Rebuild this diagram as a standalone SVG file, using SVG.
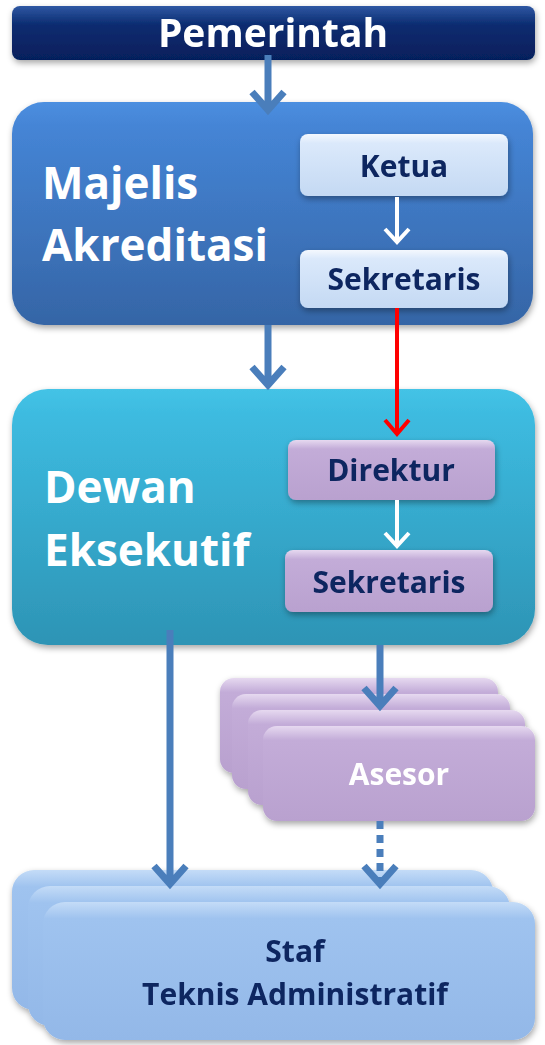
<svg xmlns="http://www.w3.org/2000/svg" width="545" height="1045" viewBox="0 0 545 1045">
<defs>
<filter id="sh" x="-10%" y="-10%" width="120%" height="130%"><feDropShadow dx="1" dy="3" stdDeviation="3" flood-color="#000" flood-opacity="0.35"/></filter>
<linearGradient id="gNavy" x1="0" y1="0" x2="0" y2="1"><stop offset="0" stop-color="#2f57a3"/><stop offset="0.35" stop-color="#0b2c70"/><stop offset="1" stop-color="#061f5c"/></linearGradient>
<linearGradient id="gMaj" x1="0" y1="0" x2="0" y2="1"><stop offset="0" stop-color="#4c8fe0"/><stop offset="0.1" stop-color="#4585d6"/><stop offset="1" stop-color="#3565a6"/></linearGradient>
<linearGradient id="gDew" x1="0" y1="0" x2="0" y2="1"><stop offset="0" stop-color="#44c3e6"/><stop offset="0.1" stop-color="#3dbbe0"/><stop offset="1" stop-color="#2d94b5"/></linearGradient>
<linearGradient id="gLight" x1="0" y1="0" x2="0" y2="1"><stop offset="0" stop-color="#f4f8fe"/><stop offset="0.15" stop-color="#dbe9fb"/><stop offset="1" stop-color="#c4d9f3"/></linearGradient>
<linearGradient id="gPur" x1="0" y1="0" x2="0" y2="1"><stop offset="0" stop-color="#e6d9f0"/><stop offset="0.15" stop-color="#c3acd8"/><stop offset="1" stop-color="#b9a1cf"/></linearGradient>
<linearGradient id="gStaf" x1="0" y1="0" x2="0" y2="1"><stop offset="0" stop-color="#c4dcf7"/><stop offset="0.12" stop-color="#9fc3ef"/><stop offset="1" stop-color="#93b8e8"/></linearGradient>
</defs>
<style>
text{font-family:"Open Sans","Liberation Sans",sans-serif;font-weight:bold;}
.big{fill:#fff;font-size:44px;}
.sub{fill:#0f2660;font-size:30px;text-anchor:middle;}
.blue{stroke:#4a7ebb;stroke-width:7;fill:none;stroke-linecap:butt;stroke-linejoin:miter;}
.wh{stroke:#fff;stroke-width:4;fill:none;}
.red{stroke:#ff0000;stroke-width:4;fill:none;}
</style>

<g id="pemerintah" filter="url(#sh)">
<rect x="12" y="6" width="523" height="54" rx="8" fill="url(#gNavy)"/>
<text x="273" y="47" fill="#fff" font-size="39" text-anchor="middle">Pemerintah</text>
</g>

<g id="majelis">
<rect x="12" y="102" width="521" height="223" rx="32" fill="url(#gMaj)" filter="url(#sh)"/>
<text class="big" x="42" y="199">Majelis</text>
<text class="big" x="42" y="261">Akreditasi</text>
</g>
<g id="ketua" filter="url(#sh)">
<rect x="300" y="134" width="208" height="62" rx="8" fill="url(#gLight)"/>
<text class="sub" x="404" y="177">Ketua</text>
</g>
<g id="sekretaris1" filter="url(#sh)">
<rect x="300" y="250" width="208" height="58" rx="8" fill="url(#gLight)"/>
<text class="sub" x="404" y="290">Sekretaris</text>
</g>

<g id="dewan">
<rect x="12" y="389" width="523" height="256" rx="36" fill="url(#gDew)" filter="url(#sh)"/>
<text class="big" x="44" y="503">Dewan</text>
<text class="big" x="44" y="566">Eksekutif</text>
</g>
<g id="direktur" filter="url(#sh)">
<rect x="288" y="440" width="207" height="60" rx="8" fill="url(#gPur)"/>
<text class="sub" x="391" y="481">Direktur</text>
</g>
<g id="sekretaris2" filter="url(#sh)">
<rect x="285" y="550" width="208" height="62" rx="8" fill="url(#gPur)"/>
<text class="sub" x="389" y="593">Sekretaris</text>
</g>

<g id="asesor" filter="url(#sh)">
<rect x="220" y="678" width="278" height="95" rx="14" fill="url(#gPur)"/>
<rect x="232" y="694" width="278" height="95" rx="14" fill="url(#gPur)"/>
<rect x="248" y="710" width="277" height="95" rx="14" fill="url(#gPur)"/>
<rect x="263" y="726" width="272" height="95" rx="14" fill="url(#gPur)"/>
<text x="399" y="785" fill="#fff" font-size="30" text-anchor="middle">Asesor</text>
</g>

<g id="staf" filter="url(#sh)">
<rect x="12" y="870" width="481" height="140" rx="22" fill="url(#gStaf)"/>
<rect x="28" y="886" width="482" height="140" rx="22" fill="url(#gStaf)"/>
<rect x="43" y="902" width="492" height="138" rx="22" fill="url(#gStaf)"/>
<text class="sub" x="295" y="962">Staf</text>
<text class="sub" x="295" y="1005">Teknis Administratif</text>
</g>

<g id="connectors">
<path class="blue" d="M268,55 V110 M252,92 L268,110 L284,92"/>
<path class="blue" d="M268,325 V385 M252,367 L268,385 L284,367"/>
<path class="wh" d="M397,197 V242 M385,229 L397,242 L409,229"/>
<path class="red" d="M397,308 V434 M385,420 L397,434 L409,420"/>
<path class="wh" d="M397,500 V546 M385,533 L397,546 L409,533"/>
<path class="blue" d="M380,645 V706 M364,688 L380,706 L396,688"/>
<path class="blue" d="M380,821 V884" stroke-dasharray="8,6"/>
<path class="blue" d="M364,866 L380,884 L396,866"/>
<path class="blue" d="M170,630 V884 M154,866 L170,884 L186,866"/>
</g>
</svg>
